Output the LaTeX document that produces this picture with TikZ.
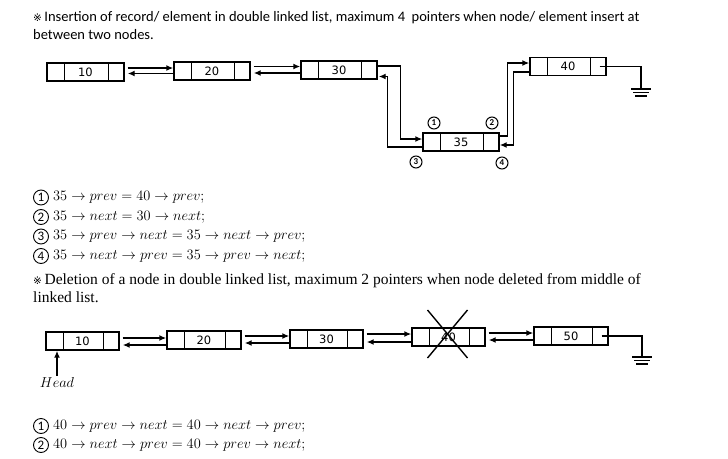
\documentclass[tikz,border=0pt]{standalone}
\usepackage{fontspec}
\setmainfont{Carlito}
\newfontfamily\dejavu{DejaVu Sans}
\newfontfamily\serifx{Liberation Serif}
\usetikzlibrary{arrows.meta,calc}
\tikzset{
  lst/.style={draw, line width=1.4pt, minimum height=18pt, inner sep=0pt, font=\dejavu\fontsize{11.5}{11.5}\selectfont},
  arr/.style={line width=1.4pt, -{Latex[length=7pt,width=6pt]}},
  wire/.style={line width=1.4pt},
  gline/.style={line width=1.2pt},
  circ/.style={circle, draw, line width=1pt, inner sep=0pt, minimum size=12pt, font=\bfseries\fontsize{9}{9}\selectfont},
  ecirc/.style={circle, draw, line width=0.9pt, inner sep=0pt, minimum size=15pt, font=\fontsize{13}{13}\selectfont},
  txt/.style={anchor=base west, inner sep=0pt, font=\fontsize{14.5}{14.5}\selectfont},
  dtxt/.style={anchor=base west, inner sep=0pt, font=\serifx\fontsize{15.5}{15.5}\selectfont},
  eq/.style={anchor=west, inner sep=0pt, font=\fontsize{15.6}{15.6}\selectfont},
}
\newcommand\kome{{\dejavu\fontsize{10.5}{10.5}\selectfont ※}}
\newcommand\dlbox[5]{%
  \node[lst, minimum width=#5pt] (#1) at (#2,#3) {#4};
  \draw[wire] ([xshift=18pt]#1.north west) -- ([xshift=18pt]#1.south west);
  \draw[wire] ([xshift=-16pt]#1.north east) -- ([xshift=-16pt]#1.south east);}
\newcommand\gnd[1]{%
  \draw[gline] ($(#1)+(-10,0)$) -- ($(#1)+(10,0)$);
  \draw[gline] ($(#1)+(-8,3.5)$) -- ($(#1)+(8,3.5)$);
  \draw[gline] ($(#1)+(-6,7)$) -- ($(#1)+(6,7)$);}
\begin{document}
\begin{tikzpicture}[x=1pt,y=-1pt]
\useasboundingbox (0,0) rectangle (728,458);
\fill[white] (0,0) rectangle (728,458);

% ---- title ----
\node[txt] (title1) at (33,21) {\kome\,Insertion of record/ element in double linked list, maximum 4\ \ pointers when node/ element insert at};
\node[txt] (title2) at (33,39) {between two nodes.};

% ---- insertion list ----
\dlbox{n10}{85.5}{72}{10}{77}
\dlbox{n20}{212}{71}{20}{76}
\dlbox{n30}{339}{70}{30}{76}
\dlbox{n35}{461}{142}{35}{76}
\dlbox{n40}{568}{66.5}{40}{76}

\draw[arr] ([xshift=3pt,yshift=4pt]n10.east) -- ([yshift=4pt]n10.east -| n20.west);
\draw[arr] ([yshift=-1.5pt]n10.east -| n20.west) -- ([xshift=3pt,yshift=-1.5pt]n10.east);
\draw[arr] ([xshift=3pt,yshift=4.5pt]n20.east) -- ([yshift=4.5pt]n20.east -| n30.west);
\draw[arr] ([yshift=-2pt]n20.east -| n30.west) -- ([xshift=3pt,yshift=-2pt]n20.east);

\draw[arr] ([yshift=4pt]n30.east) -- ++(23,0) |- ([yshift=3pt]n35.west);
\draw[arr] ([yshift=-5pt]n35.west) -- ++(-35,0) |- ([xshift=1pt,yshift=-6.5pt]n30.east);
\draw[arr] ([yshift=6pt]n35.east) -- ++(8,0) |- ([yshift=3.5pt]n40.west);
\draw[arr] ([yshift=-5.5pt]n40.west) -- ++(-16,0) |- ([yshift=-3pt]n35.east);

\coordinate (g1) at (641,89);
\draw[wire] ([xshift=-7pt]n40.east) -| (g1);
\gnd{g1}

\node[circ] (c1) at (434,123) {1};
\node[circ] (c2) at (492,123) {2};
\node[circ] (c3) at (416,162) {3};
\node[circ] (c4) at (502,163) {4};

% ---- insertion equations ----
\node[ecirc] (e1) at (41,197.5) {1};
\node[eq] (q1) at ([xshift=4pt]e1.east) {$35 \rightarrow prev = 40 \rightarrow prev;$};
\node[ecirc] (e2) at (41,217) {2};
\node[eq] (q2) at ([xshift=4pt]e2.east) {$35 \rightarrow next = 30 \rightarrow next;$};
\node[ecirc] (e3) at (41,236.5) {3};
\node[eq] (q3) at ([xshift=4pt]e3.east) {$35 \rightarrow prev \rightarrow next = 35 \rightarrow next \rightarrow prev;$};
\node[ecirc] (e4) at (41,256) {4};
\node[eq] (q4) at ([xshift=4pt]e4.east) {$35 \rightarrow next \rightarrow prev = 35 \rightarrow prev \rightarrow next;$};

% ---- deletion title ----
\node[dtxt] (del1) at (33,284) {\kome\,Deletion of a node in double linked list, maximum 2 pointers when node deleted from middle of};
\node[dtxt] (del2) at (33,302) {linked list.};

% ---- deletion list ----
\dlbox{m10}{82.5}{341}{10}{73}
\dlbox{m20}{204}{340}{20}{74}
\dlbox{m30}{326.5}{339}{30}{73}
\dlbox{m40}{448.5}{337}{40}{73}
\dlbox{m50}{571}{336}{50}{74}

\draw[arr] ([xshift=3pt,yshift=3pt]m10.east) -- ([yshift=3pt]m10.east -| m20.west);
\draw[arr] ([yshift=-4pt]m10.east -| m20.west) -- ([xshift=3pt,yshift=-4pt]m10.east);
\draw[arr] ([xshift=3pt,yshift=4pt]m20.east) -- ([yshift=4pt]m20.east -| m30.west);
\draw[arr] ([yshift=-3pt]m20.east -| m30.west) -- ([xshift=3pt,yshift=-3pt]m20.east);
\draw[arr] ([xshift=3pt,yshift=5pt]m30.east) -- ([yshift=5pt]m30.east -| m40.west);
\draw[arr] ([yshift=-3pt]m30.east -| m40.west) -- ([xshift=3pt,yshift=-3pt]m30.east);
\draw[arr] ([xshift=3pt,yshift=4pt]m40.east) -- ([yshift=4pt]m40.east -| m50.west);
\draw[arr] ([yshift=-3pt]m40.east -| m50.west) -- ([xshift=3pt,yshift=-3pt]m40.east);

\draw[wire] ($(m40)+(-21,-27)$) -- ($(m40)+(19,21)$);
\draw[wire] ($(m40)+(19,-27)$) -- ($(m40)+(-21,21)$);

\coordinate (g2) at (642,357);
\draw[wire] ([xshift=-7pt]m50.east) -| (g2);
\gnd{g2}

\node[inner sep=0pt, font=\fontsize{14.5}{14.5}\selectfont] (head) at (57,382) {$Head$};
\draw[arr] ([yshift=1pt]head.north) -- (head.north |- m10.south);

% ---- deletion equations ----
\node[ecirc] (f1) at (41,426) {1};
\node[eq] (r1) at ([xshift=4pt]f1.east) {$40 \rightarrow prev \rightarrow next = 40 \rightarrow next \rightarrow prev;$};
\node[ecirc] (f2) at (41,445) {2};
\node[eq] (r2) at ([xshift=4pt]f2.east) {$40 \rightarrow next \rightarrow prev = 40 \rightarrow prev \rightarrow next;$};
\end{tikzpicture}
\end{document}
